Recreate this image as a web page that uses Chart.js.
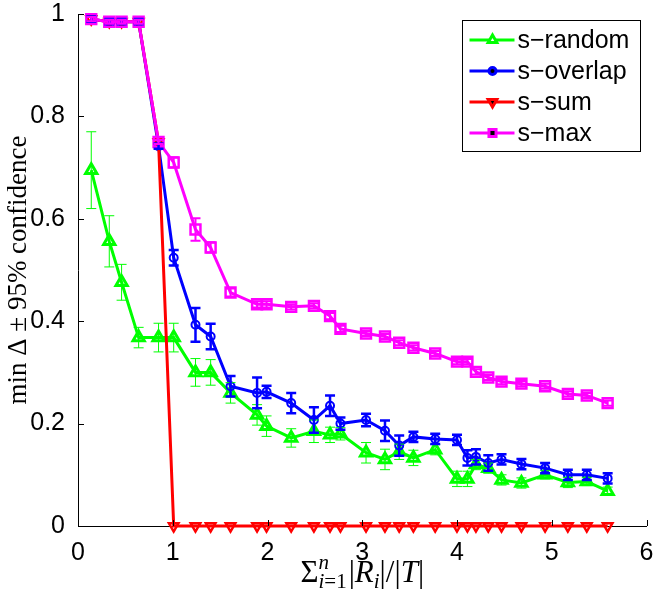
<!DOCTYPE html>
<html>
<head>
<meta charset="utf-8">
<script src="https://cdn.jsdelivr.net/npm/chart.js@4/dist/chart.umd.min.js"></script>
<style>
  html, body { margin: 0; padding: 0; background: #fff; }
  #wrap { width: 656px; height: 590px; }
</style>
</head>
<body>
<div id="wrap"><canvas id="myChart" width="656" height="590"></canvas></div>
<script>
// x positions: sum of |R_i| over |T|
var xVals = [0.14, 0.33, 0.46, 0.64, 0.85, 1.01, 1.24, 1.40, 1.61, 1.89, 1.99, 2.25, 2.49, 2.66, 2.77,
             3.04, 3.24, 3.39, 3.54, 3.77, 4.00, 4.11, 4.20, 4.33, 4.47, 4.68, 4.93, 5.17, 5.37, 5.59];

var sRandom = [0.695, 0.556, 0.476, 0.368, 0.368, 0.368, 0.300, 0.300, 0.260, 0.217, 0.195, 0.172, 0.185, 0.178, 0.180,
               0.143, 0.130, 0.145, 0.133, 0.149, 0.092, 0.092, 0.120, 0.113, 0.090, 0.084, 0.100, 0.085, 0.087, 0.068];
var sRandomErr = [0.075, 0.050, 0.035, 0.020, 0.028, 0.028, 0.027, 0.025, 0.020, 0.020, 0.020, 0.018, 0.022, 0.015, 0.012,
                  0.020, 0.020, 0.015, 0.015, 0.010, 0.015, 0.015, 0.010, 0.010, 0.010, 0.010, 0.008, 0.010, 0.008, 0.008];

var sOverlap = [0.990, 0.985, 0.985, 0.985, 0.742, 0.524, 0.393, 0.370, 0.273, 0.260, 0.262, 0.240, 0.207, 0.235, 0.200,
                0.207, 0.186, 0.157, 0.174, 0.170, 0.168, 0.133, 0.135, 0.123, 0.130, 0.121, 0.113, 0.100, 0.100, 0.093];
var sOverlapErr = [0.005, 0.005, 0.005, 0.005, 0.005, 0.015, 0.033, 0.025, 0.020, 0.030, 0.012, 0.020, 0.025, 0.020, 0.012,
                   0.012, 0.020, 0.020, 0.010, 0.010, 0.010, 0.015, 0.015, 0.015, 0.010, 0.010, 0.010, 0.010, 0.010, 0.010];

var sSum = [0.990, 0.985, 0.985, 0.985, 0.750, 0, 0, 0, 0, 0, 0, 0, 0, 0, 0,
            0, 0, 0, 0, 0, 0, 0, 0, 0, 0, 0, 0, 0, 0, 0];

var sMax = [0.990, 0.985, 0.985, 0.985, 0.750, 0.710, 0.579, 0.544, 0.456, 0.433, 0.433, 0.428, 0.430, 0.410, 0.385,
            0.376, 0.370, 0.358, 0.348, 0.337, 0.321, 0.321, 0.301, 0.290, 0.282, 0.278, 0.273, 0.258, 0.255, 0.240];
var sMaxErr = [0.004, 0.004, 0.004, 0.004, 0.004, 0.010, 0.022, 0.010, 0.008, 0.006, 0.006, 0.005, 0.005, 0.006, 0.006,
               0.005, 0.005, 0.005, 0.005, 0.005, 0.005, 0.005, 0.005, 0.005, 0.005, 0.005, 0.005, 0.005, 0.005, 0.005];

var xTickLabels = ['0', '1', '2', '3', '4', '5', '6'];
var yTickLabels = ['0', '0.2', '0.4', '0.6', '0.8', '1'];

function pts(ys) {
    return xVals.map(function (x, i) { return { x: x, y: ys[i] }; });
}

var tickFont = { family: 'Liberation Sans', size: 25 };

// error bars drawn through the scales
var errorBars = {
    id: 'errorBars',
    afterDatasetsDraw: function (chart) {
        var ctx = chart.ctx, xs = chart.scales.x, ys = chart.scales.y;
        chart.data.datasets.forEach(function (ds) {
            if (!ds.err) return;
            ctx.save();
            ctx.strokeStyle = ds.borderColor;
            ctx.lineWidth = ds.errWidth;
            ds.data.forEach(function (p, i) {
                var px = xs.getPixelForValue(p.x);
                var top = ys.getPixelForValue(p.y + ds.err[i]);
                var bot = ys.getPixelForValue(p.y - ds.err[i]);
                ctx.beginPath();
                ctx.moveTo(px, top); ctx.lineTo(px, bot);
                ctx.moveTo(px - 5, top); ctx.lineTo(px + 5, top);
                ctx.moveTo(px - 5, bot); ctx.lineTo(px + 5, bot);
                ctx.stroke();
            });
            ctx.restore();
        });
    }
};

// inward tick marks, x title, legend box
var decorations = {
    id: 'decorations',
    afterDraw: function (chart) {
        var ctx = chart.ctx, a = chart.chartArea;
        var xs = chart.scales.x, ys = chart.scales.y;
        ctx.save();
        ctx.strokeStyle = '#000';
        ctx.lineWidth = 1;
        ctx.beginPath();
        xs.ticks.forEach(function (t) {
            var px = Math.round(xs.getPixelForValue(t.value)) + 0.5;
            ctx.moveTo(px, a.bottom); ctx.lineTo(px, a.bottom - 6);
        });
        ys.ticks.forEach(function (t) {
            var py = Math.round(ys.getPixelForValue(t.value)) + 0.5;
            ctx.moveTo(a.left, py); ctx.lineTo(a.left + 6, py);
        });
        ctx.stroke();

        // x axis title with sub/superscripts
        var big = 31, small = 21;
        var parts = [
            { t: 'Σ', f: big + 'px "Liberation Serif"', dy: 0 },
            { t: 'n', f: 'italic ' + small + 'px "Liberation Serif"', dy: -13, stack: true },
            { t: 'i', f: 'italic ' + small + 'px "Liberation Serif"', dy: 6 },
            { t: '=1', f: small + 'px "Liberation Serif"', dy: 6 },
            { t: '|', f: big + 'px "Liberation Serif"', dy: 0, gap: 2 },
            { t: 'R', f: 'italic ' + big + 'px "Liberation Serif"', dy: 0 },
            { t: 'i', f: 'italic ' + small + 'px "Liberation Serif"', dy: 6 },
            { t: '|/|', f: big + 'px "Liberation Serif"', dy: 0 },
            { t: 'T', f: 'italic ' + big + 'px "Liberation Serif"', dy: 0 },
            { t: '|', f: big + 'px "Liberation Serif"', dy: 0 }
        ];
        var total = 0;
        parts.forEach(function (p) {
            ctx.font = p.f;
            p.w = ctx.measureText(p.t).width;
            if (!p.stack) total += p.w + (p.gap || 0);
        });
        var x = (a.left + a.right) / 2 - total / 2, base = 582;
        ctx.fillStyle = '#000';
        ctx.textBaseline = 'alphabetic';
        ctx.textAlign = 'left';
        parts.forEach(function (p) {
            ctx.font = p.f;
            if (p.stack) {
                ctx.fillText(p.t, x, base + p.dy);
                return;
            }
            x += (p.gap || 0);
            ctx.fillText(p.t, x, base + p.dy);
            x += p.w;
        });

        // legend
        var bx = a.right - 185, by = a.top + 6, bw = 178, bh = 131;
        ctx.fillStyle = '#fff';
        ctx.fillRect(bx, by, bw, bh);
        ctx.strokeRect(Math.round(bx) + 0.5, Math.round(by) + 0.5, bw, bh);
        ctx.font = '25px "Liberation Sans"';
        ctx.textBaseline = 'middle';
        chart.data.datasets.forEach(function (ds, i) {
            var cy = by + 20 + i * 31;
            ctx.strokeStyle = ds.borderColor;
            ctx.lineWidth = ds.borderWidth;
            ctx.beginPath();
            ctx.moveTo(bx + 8, cy); ctx.lineTo(bx + 53, cy);
            ctx.stroke();
            Chart.helpers.drawPoint(ctx, {
                pointStyle: ds.pointStyle, rotation: ds.pointRotation || 0,
                radius: ds.legendRadius, borderWidth: ds.pointBorderWidth
            }, bx + 31, cy);
            ctx.fillStyle = '#000';
            ctx.fillText(ds.label, bx + 56, cy + 1);
        });
        ctx.restore();
    }
};

var ctx = document.getElementById('myChart').getContext('2d');
var myChart = new Chart(ctx, {
    type: 'line',
    data: {
        datasets: [
            {
                label: 's−random',
                data: pts(sRandom),
                err: sRandomErr,
                errWidth: 1,
                borderColor: '#00ff00',
                backgroundColor: 'transparent',
                borderWidth: 3,
                pointStyle: 'triangle',
                pointRadius: 6.5,
                legendRadius: 5,
                pointBorderWidth: 3,
                order: 3
            },
            {
                label: 's−overlap',
                data: pts(sOverlap),
                err: sOverlapErr,
                errWidth: 2.5,
                borderColor: '#0000ff',
                backgroundColor: 'transparent',
                borderWidth: 3,
                pointStyle: 'circle',
                pointRadius: 4,
                legendRadius: 3.5,
                pointBorderWidth: 2,
                order: 2
            },
            {
                label: 's−sum',
                data: pts(sSum),
                borderColor: '#ff0000',
                backgroundColor: 'transparent',
                borderWidth: 3,
                pointStyle: 'triangle',
                pointRotation: 180,
                pointRadius: 5.5,
                legendRadius: 5,
                pointBorderWidth: 2.5,
                order: 1
            },
            {
                label: 's−max',
                data: pts(sMax),
                err: sMaxErr,
                errWidth: 2,
                borderColor: '#ff00ff',
                backgroundColor: 'transparent',
                borderWidth: 3,
                pointStyle: 'rect',
                pointRadius: 7,
                legendRadius: 5,
                pointBorderWidth: 2.5,
                order: 0
            }
        ]
    },
    options: {
        responsive: false,
        animation: false,
        devicePixelRatio: 1,
        layout: { padding: { top: 14, right: 4, left: 0, bottom: 0 } },
        plugins: {
            legend: { display: false },
            tooltip: { enabled: false }
        },
        elements: {
            line: { tension: 0 }
        },
        datasets: { line: { clip: 12 } },
        scales: {
            x: {
                type: 'linear',
                min: 0, max: 6,
                grid: { display: false },
                border: { display: true, color: '#000', width: 1 },
                ticks: {
                    stepSize: 1, color: '#000', font: tickFont, padding: 4,
                    maxRotation: 0,
                    callback: function (v, i) { return xTickLabels[i]; }
                },
                afterFit: function (s) { s.height = 64; s.paddingLeft = 0; s.paddingRight = 0; }
            },
            y: {
                min: 0, max: 1,
                grid: { display: false },
                border: { display: true, color: '#000', width: 1 },
                ticks: {
                    stepSize: 0.2, color: '#000', font: tickFont, padding: 5,
                    callback: function (v, i) { return yTickLabels[i]; }
                },
                title: {
                    display: true,
                    text: 'min Δ ± 95% confidence',
                    color: '#000',
                    font: { family: 'Liberation Serif', size: 27 },
                    padding: { top: 3, bottom: 0 }
                },
                afterFit: function (s) { s.width = 78; s.paddingTop = 0; s.paddingBottom = 0; }
            }
        }
    },
    plugins: [errorBars, decorations]
});
</script>
</body>
</html>
